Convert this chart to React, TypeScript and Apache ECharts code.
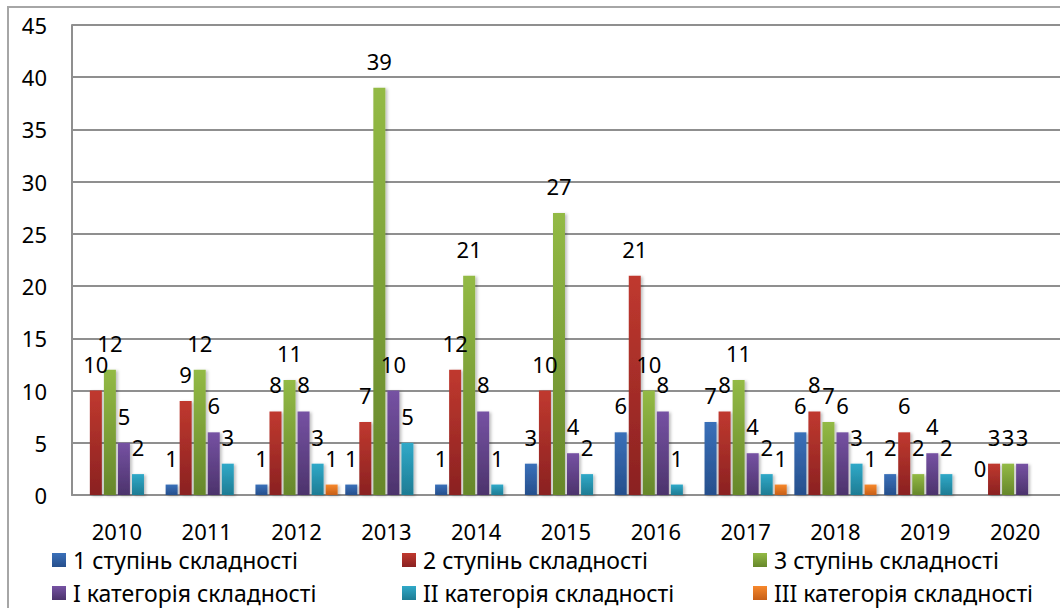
import React, { useEffect, useRef } from "react";
import * as echarts from "echarts";

const categories = ["2010", "2011", "2012", "2013", "2014", "2015", "2016", "2017", "2018", "2019", "2020"];
const seriesNames = [
  "1 ступінь складності",
  "2 ступінь складності",
  "3 ступінь складності",
  "I категорія складності",
  "II категорія складності",
  "III категорія складності",
];
const step1 = [null, 1, 1, 1, 1, 3, 6, 7, 6, 2, 0];
const step2 = [10, 9, 8, 7, 12, 10, 21, 8, 8, 6, 3];
const step3 = [12, 12, 11, 39, 21, 27, 10, 11, 7, 2, 3];
const cat1 = [5, 6, 8, 10, 8, 4, 8, 4, 6, 4, 3];
const cat2 = [2, 3, 3, 5, 1, 2, 1, 2, 3, 2, null];
const cat3 = [null, null, 1, null, null, null, null, 1, 1, null, null];
const yTicks = { min: 0, max: 45, interval: 5 };

const colorPairs: [string, string][] = [
  ["#3a70b9", "#264f8c"],
  ["#c0392f", "#8a2121"],
  ["#93ba45", "#66872b"],
  ["#7652a3", "#4c336c"],
  ["#30a9c8", "#1e7c94"],
  ["#f7882c", "#c75f17"],
];

const FONT = "Noto Sans";

export default function App() {
  const ref = useRef<HTMLDivElement>(null);
  useEffect(() => {
    if (!ref.current) return;
    const chart = echarts.init(ref.current, null, { renderer: "svg" });
    const values = [step1, step2, step3, cat1, cat2, cat3];
    const grad = (i: number) =>
      new echarts.graphic.LinearGradient(0, 0, 0, 1, [
        { offset: 0, color: colorPairs[i][0] },
        { offset: 1, color: colorPairs[i][1] },
      ]);
    const legendPos = [
      { left: 52, top: 546 },
      { left: 402, top: 546 },
      { left: 753, top: 546 },
      { left: 52, top: 579 },
      { left: 402, top: 579 },
      { left: 753, top: 579 },
    ];
    chart.setOption({
      animation: false,
      backgroundColor: "#ffffff",
      graphic: [
        {
          type: "rect",
          shape: { x: 8, y: 7, width: 1200, height: 800 },
          style: { fill: "none", stroke: "#a6a6a6", lineWidth: 2 },
          silent: true,
          z: 0,
        },
      ],
      legend: seriesNames.map((n, i) => ({
        data: [n],
        left: legendPos[i].left,
        top: legendPos[i].top,
        padding: 0,
        icon: "rect",
        itemWidth: 14,
        itemHeight: 14,
        textStyle: {
          fontFamily: FONT,
          fontSize: 23,
          color: "#000",
          lineHeight: 28,
          padding: [0, 0, 0, 2],
        },
      })),
      grid: { left: 72, top: 25, width: 992, height: 470, containLabel: false },
      xAxis: {
        type: "category",
        data: categories,
        axisTick: { show: false },
        axisLine: { lineStyle: { color: "#8f8f8f", width: 2 } },
        axisLabel: { fontFamily: FONT, fontSize: 22, color: "#000", margin: 25 },
      },
      yAxis: {
        type: "value",
        min: yTicks.min,
        max: yTicks.max,
        interval: yTicks.interval,
        axisLine: { show: true, lineStyle: { color: "#8f8f8f", width: 2 } },
        axisTick: { show: false },
        splitLine: { lineStyle: { color: "#8f8f8f", width: 2 } },
        axisLabel: { fontFamily: FONT, fontSize: 22, color: "#000", margin: 25 },
      },
      series: seriesNames.map((n, i) => ({
        name: n,
        type: "bar",
        data: values[i],
        barWidth: 12,
        barGap: "17%",
        itemStyle: {
          color: grad(i),
          shadowColor: "rgba(0,0,0,0.25)",
          shadowBlur: 3,
          shadowOffsetX: 2,
          shadowOffsetY: 1,
        },
        label: {
          show: true,
          position: "top",
          distance: 16,
          fontFamily: FONT,
          fontSize: 22,
          color: "#000",
        },
      })),
    });
    return () => chart.dispose();
  }, []);
  return (
    <div
      ref={ref}
      style={{ position: "absolute", left: 0, top: 0, width: 1060, height: 608 }}
    />
  );
}
